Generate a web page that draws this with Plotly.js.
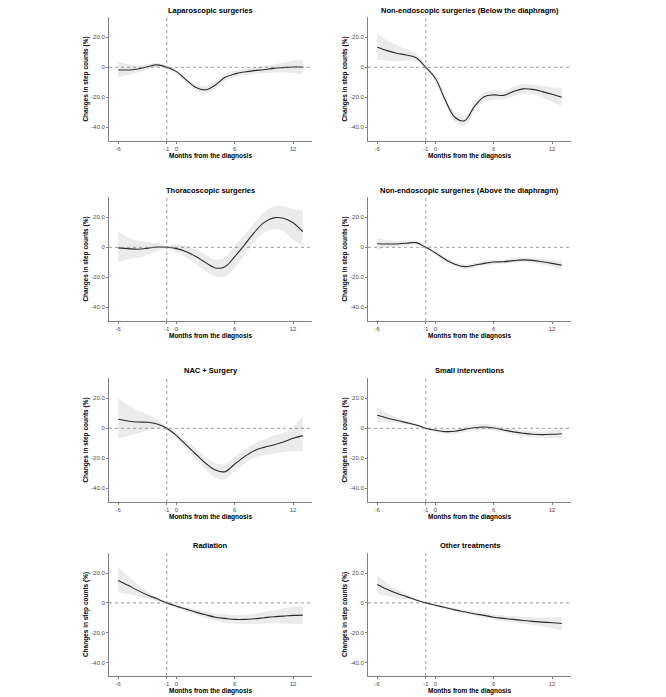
<!DOCTYPE html>
<html>
<head>
<meta charset="utf-8">
<script src="https://cdn.plot.ly/plotly-3.0.1.min.js"></script>
<style>html,body{margin:0;padding:0;background:#fff;}#chart{width:666px;height:697px;}</style>
</head>
<body>
<div id="chart"></div>
<script>
const months = [-6,-5,-4,-3,-2,-1,0,1,2,3,4,5,6,7,8,9,10,11,12,13];
const xTickVals = [-6,-1,0,6,12];
const xTickText = ['-6','-1','0','6','12'];
const yTickVals = [-40,-20,0,20];
const yTickText = ['-40.0','-20.0','0','20.0'];

const panelTitles = [
  'Laparoscopic surgeries',
  'Non-endoscopic surgeries (Below the diaphragm)',
  'Thoracoscopic surgeries',
  'Non-endoscopic surgeries (Above the diaphragm)',
  'NAC + Surgery',
  'Small interventions',
  'Radiation',
  'Other treatments'
];

// Laparoscopic surgeries
const lapMean  = [-1.8,-1.8,-1.1,0.4,1.6,0,-2.9,-8.4,-13.5,-15.0,-11.8,-6.7,-4.4,-3.1,-2.2,-1.6,-0.7,-0.2,0.2,0.2];
const lapLower = [-6.5,-5,-3.5,-1.5,0,-1,-4.5,-10,-15.5,-17.5,-14,-9,-6.5,-5.2,-4.5,-4,-3.5,-3.5,-4,-4.5];
const lapUpper = [3.8,2,1,2,3,1,-1.3,-7,-11.5,-12.5,-9.5,-4.5,-2.3,-1,0,0.8,2,3,4.3,5.3];

// Non-endoscopic surgeries (Below the diaphragm)
const belMean  = [13.3,11.1,9.3,8.2,6.4,0,-7.5,-21.8,-33.3,-35.6,-26.2,-19.6,-18.4,-18.7,-16.2,-14.4,-14.7,-16.2,-18,-20];
const belLower = [5,4.5,4,4.5,4,-1,-9.8,-24.5,-36.5,-39,-29.5,-23,-21.5,-21.5,-19.5,-17.5,-18,-20,-23,-26];
const belUpper = [22.5,18,15,12,9,1,-5.2,-19,-30,-32,-23,-16.5,-15.5,-16,-13,-11,-11.5,-12.5,-13.5,-13.5];

// Thoracoscopic surgeries
const thoMean  = [-0.4,-0.9,-1.3,-0.7,0.2,0,-0.9,-2.9,-6.2,-10.2,-13.8,-12.9,-6.2,1.6,9.8,16.4,19.6,19.3,16.4,10.4];
const thoLower = [-10,-8,-7,-5,-2.5,-1,-3.5,-6.5,-11,-16,-19.5,-19.5,-13.5,-5,3.5,10,12,11,5,1];
const thoUpper = [10.5,6.5,4.5,3.5,2.5,1,2,1,-1.5,-5,-8.5,-6.5,1,8.5,16,23,27.5,27.5,25.5,24.5];

// Non-endoscopic surgeries (Above the diaphragm)
const abvMean  = [2.4,2.2,2.2,2.7,3.1,0,-3.8,-8,-11.3,-12.9,-12,-10.7,-9.8,-9.6,-8.9,-8.4,-8.7,-9.6,-10.7,-12];
const abvLower = [-1.5,0,0.5,1,1.8,-0.5,-5,-9.4,-12.8,-14.4,-13.5,-12.2,-11.3,-11,-10.5,-10,-10.5,-11.5,-13,-15];
const abvUpper = [6.5,4.8,4,4.3,4.5,0.5,-2.6,-6.6,-9.8,-11.4,-10.5,-9.2,-8.3,-8.2,-7.3,-6.8,-7,-7.8,-8.5,-9];

// NAC + Surgery
const nacMean  = [6,4.9,4.2,4,2.9,0,-4.9,-11.1,-17.3,-23.3,-27.8,-28.9,-23.8,-18.9,-14.9,-12.7,-11.1,-9.1,-6.7,-4.9];
const nacLower = [-7,-5,-3.5,-1.5,0,-1,-7,-14,-21,-27.5,-33,-34,-28.5,-23.5,-19.5,-18,-17,-16,-15.5,-15.5];
const nacUpper = [20,15.5,12,9,6,1,-3,-8.5,-13.5,-19,-23,-24,-19,-14.5,-10,-7.5,-5,-3,1,8];

// Small interventions
const smlMean  = [8.7,6.9,5.3,3.8,2.2,0,-1.3,-2.2,-2,-0.7,0.4,0.9,0.2,-1.1,-2.4,-3.3,-4,-4.2,-4,-3.6];
const smlLower = [4.5,4,3.5,2.5,1.3,-0.5,-2.5,-3.8,-3.8,-2.5,-1.5,-1,-1.5,-2.8,-4.2,-5.2,-6,-6.3,-6.5,-7];
const smlUpper = [13.5,10,7.5,5,3.2,0.5,0,-0.8,-0.3,1,2.4,2.9,2,0.6,-0.7,-1.5,-2,-2.1,-1.5,-0.5];

// Radiation
const radMean  = [15.1,11.8,8.4,5.3,2.7,0,-2.2,-4.2,-6.2,-8,-9.6,-10.4,-11.1,-11.1,-10.7,-10,-9.3,-8.9,-8.4,-8.2];
const radLower = [6.9,6,4.5,3,1.3,-0.5,-3.3,-5.7,-8,-10.2,-12,-13.2,-14,-14.2,-14,-13.8,-13.7,-13.8,-14,-14.5];
const radUpper = [24,18,12.5,7.5,4,0.5,-1.1,-2.7,-4.3,-5.8,-7,-7.6,-8.2,-8,-7.3,-6.3,-5,-3.8,-2.6,-1.8];

// Other treatments
const othMean  = [12.4,9.1,6.4,4.2,2,0,-1.6,-3.1,-4.7,-6,-7.3,-8.4,-9.6,-10.4,-11.1,-11.8,-12.4,-12.9,-13.3,-13.8];
const othLower = [6.2,4.7,3.5,2.4,1.2,-0.5,-2.3,-4,-5.8,-7.2,-8.7,-10,-11.3,-12.3,-13.2,-14,-14.9,-15.9,-17,-18.5];
const othUpper = [18.4,13.5,9.3,6,2.8,0.5,-0.9,-2.2,-3.6,-4.8,-5.9,-6.8,-7.9,-8.5,-9,-9.4,-9.7,-9.9,-9.8,-9.3];

const panels = [
  [lapMean, lapLower, lapUpper],
  [belMean, belLower, belUpper],
  [thoMean, thoLower, thoUpper],
  [abvMean, abvLower, abvUpper],
  [nacMean, nacLower, nacUpper],
  [smlMean, smlLower, smlUpper],
  [radMean, radLower, radUpper],
  [othMean, othLower, othUpper]
];

const W = 666, H = 697;
const colPx = [[109, 312], [368, 571]];
const rowPx = [[17, 141], [197, 321], [378, 502], [553, 676]];
const titleY = [10, 190, 370.5, 545];

const FONT = 'Liberation Sans, Arial, sans-serif';
const traces = [];
const layout = {
  width: W, height: H,
  margin: {l: 0, r: 0, t: 0, b: 0},
  paper_bgcolor: '#ffffff', plot_bgcolor: '#ffffff',
  showlegend: false,
  font: {family: FONT, color: '#000'},
  annotations: [], shapes: []
};

panels.forEach((p, i) => {
  const n = i + 1;
  const xa = n === 1 ? 'x' : 'x' + n;
  const ya = n === 1 ? 'y' : 'y' + n;
  const col = i % 2, row = Math.floor(i / 2);
  const [mean, lower, upper] = p;
  traces.push({x: months, y: lower, xaxis: xa, yaxis: ya, type: 'scatter', mode: 'lines',
    line: {width: 0, shape: 'spline', color: 'rgba(0,0,0,0)'}, hoverinfo: 'skip'});
  traces.push({x: months, y: upper, xaxis: xa, yaxis: ya, type: 'scatter', mode: 'lines',
    fill: 'tonexty', fillcolor: '#ebebeb',
    line: {width: 0, shape: 'spline', color: 'rgba(0,0,0,0)'}, hoverinfo: 'skip'});
  traces.push({x: months, y: mean, xaxis: xa, yaxis: ya, type: 'scatter', mode: 'lines',
    line: {width: 1.1, shape: 'spline', color: '#2a2a2a'}});

  const xd = [colPx[col][0] / W, colPx[col][1] / W];
  const yd = [1 - rowPx[row][1] / H, 1 - rowPx[row][0] / H];
  const axCommon = {
    showline: true, linecolor: '#808080', linewidth: 1,
    ticks: 'outside', ticklen: 2, tickwidth: 1, tickcolor: '#808080',
    showgrid: false, zeroline: false,
    tickfont: {family: FONT, size: 6, color: '#4d4d4d'}
  };
  layout['xaxis' + (n === 1 ? '' : n)] = Object.assign({}, axCommon, {
    domain: xd, anchor: ya, range: [-6.95, 13.95],
    tickmode: 'array', tickvals: xTickVals, ticktext: xTickText,
    title: {text: 'Months from the diagnosis', standoff: 2,
      font: {family: FONT, size: 6.5, color: '#000', weight: 'bold'}}
  });
  layout['yaxis' + (n === 1 ? '' : n)] = Object.assign({}, axCommon, {
    domain: yd, anchor: xa, range: [-49.1, 33.5],
    tickmode: 'array', tickvals: yTickVals, ticktext: yTickText,
    title: {text: 'Changes in step counts (%)', standoff: 1,
      font: {family: FONT, size: 6.5, color: '#000', weight: 'bold'}}
  });
  layout.annotations.push({
    text: panelTitles[i], xref: 'paper', yref: 'paper',
    x: (xd[0] + xd[1]) / 2, y: 1 - titleY[row] / H,
    xanchor: 'center', yanchor: 'middle', showarrow: false,
    font: {family: FONT, size: 7.5, color: '#000', weight: 'bold'}
  });
  layout.shapes.push({type: 'line', xref: xa + ' domain', yref: ya,
    x0: 0, x1: 1, y0: 0, y1: 0, line: {color: '#808080', width: 0.8, dash: 'dot'}});
  layout.shapes.push({type: 'line', xref: xa, yref: ya + ' domain',
    x0: -1, x1: -1, y0: 0, y1: 1, line: {color: '#808080', width: 0.8, dash: 'dot'}});
});

Plotly.newPlot('chart', traces, layout, {staticPlot: true, displayModeBar: false});
</script>
</body>
</html>
